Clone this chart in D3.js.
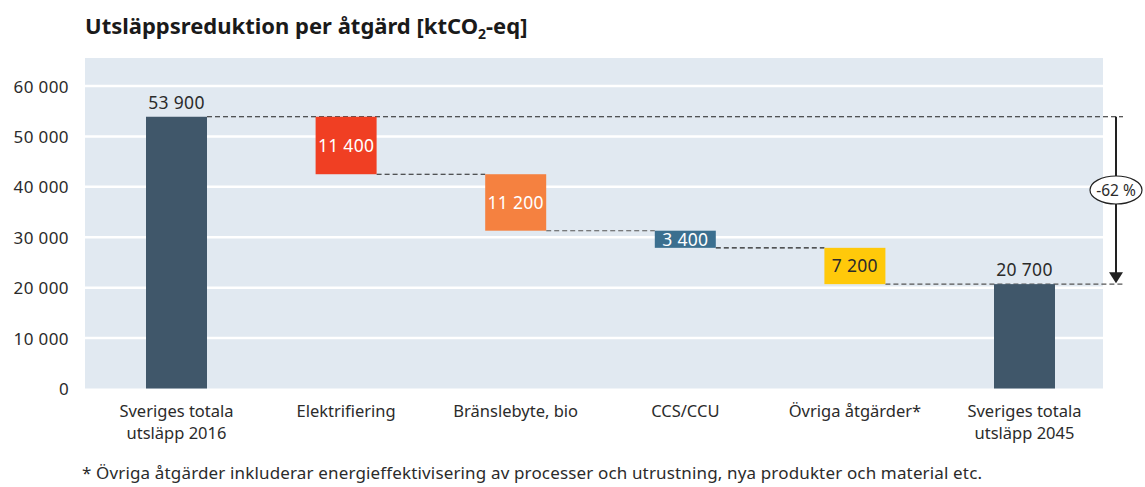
<!DOCTYPE html>
<html>
<head>
<meta charset="utf-8">
<script src="https://cdn.jsdelivr.net/npm/d3@7"></script>
<style>
  body { margin: 0; background: #fff; }
  text { font-family: "Noto Sans", sans-serif; fill: #2b2b2b; }
</style>
</head>
<body>
<div id="canvas"></div>
<script>
// data
const categories = [
  ["Sveriges totala", "utsläpp 2016"],
  ["Elektrifiering"],
  ["Bränslebyte, bio"],
  ["CCS/CCU"],
  ["Övriga åtgärder*"],
  ["Sveriges totala", "utsläpp 2045"]
];
const values = [53900, 11400, 11200, 3400, 7200, 20700];
const kinds = ["total", "step", "step", "step", "step", "total"];
const colors = ["#40576a", "#f03f23", "#f58140", "#3b6f8f", "#ffc90a", "#40576a"];
const yTicks = [0, 10000, 20000, 30000, 40000, 50000, 60000];
const changeLabel = "-62 %";

const width = 1145, height = 487;
const svg = d3.select("#canvas").append("svg")
  .attr("width", width).attr("height", height);

const plot = { left: 85, right: 1103, top: 58, bottom: 388.5 };

const y = d3.scaleLinear().domain([0, 60000]).range([388.5, 86]);
const x = d3.scalePoint()
  .domain(d3.range(categories.length))
  .range([176.5, 1024.5]);
const barW = 61;

const fmt = v => d3.format(",")(v).replace(/,/g, " ");

// background
svg.append("rect")
  .attr("x", plot.left).attr("y", plot.top)
  .attr("width", plot.right - plot.left).attr("height", plot.bottom - plot.top)
  .attr("fill", "#e1e9f1");

// grid
svg.append("g").selectAll("line").data(yTicks.filter(d => d > 0)).enter().append("line")
  .attr("x1", plot.left).attr("x2", plot.right)
  .attr("y1", d => y(d)).attr("y2", d => y(d))
  .attr("stroke", "#fff").attr("stroke-width", 2.5);

// y axis
const yAxis = svg.append("g")
  .attr("transform", `translate(${plot.left},0)`)
  .call(d3.axisLeft(y).tickValues(yTicks).tickSize(0).tickPadding(16).tickFormat(fmt));
yAxis.select(".domain").remove();
yAxis.selectAll("text").style("font-size", "17px").style("letter-spacing", "0.4px")
  .style("font-family", "'Noto Sans', sans-serif")
  .attr("fill", "#2b2b2b").attr("dy", "0.36em");

// compute waterfall positions
let running = 0;
const bars = values.map((v, i) => {
  let lo, hi;
  if (kinds[i] === "total") { lo = 0; hi = v; running = v; }
  else { hi = running; lo = running - v; running = lo; }
  return { i, v, lo, hi, kind: kinds[i], color: colors[i] };
});

// connectors
const conn = svg.append("g").attr("stroke", "#222").attr("stroke-width", 1.1)
  .attr("stroke-dasharray", "5,3");
bars.forEach((b, k) => {
  if (k === 0) {
    conn.append("line")
      .attr("x1", x(0) + barW / 2).attr("x2", 1123)
      .attr("y1", y(b.hi)).attr("y2", y(b.hi));
  } else if (k < bars.length - 1) {
    const nx = k + 1 < bars.length - 1 ? x(k + 1) - barW / 2 : 1123;
    conn.append("line")
      .attr("x1", x(k) + barW / 2).attr("x2", nx)
      .attr("y1", y(b.lo)).attr("y2", y(b.lo))
      .attr("stroke", k === 2 || k === 4 ? "#555" : "#222");
  }
});

// bars
svg.append("g").selectAll("rect").data(bars).enter().append("rect")
  .attr("x", d => x(d.i) - barW / 2)
  .attr("width", barW)
  .attr("y", d => y(d.hi))
  .attr("height", d => y(d.lo) - y(d.hi))
  .attr("fill", d => d.color);

// value labels
svg.append("g").selectAll("text").data(bars).enter().append("text")
  .attr("x", d => x(d.i))
  .attr("y", d => d.kind === "total" ? y(d.hi) - 8 : (y(d.hi) + y(d.lo)) / 2)
  .attr("dy", d => d.kind === "total" ? 0 : "0.36em")
  .attr("text-anchor", "middle")
  .style("font-size", "17.5px")
  .style("letter-spacing", "0.3px")
  .style("fill", d => d.kind === "total" || d.i === 4 ? "#2b2b2b" : "#fff")
  .text(d => fmt(d.v));

// category labels
const cat = svg.append("g").selectAll("text").data(categories).enter().append("text")
  .attr("x", (d, i) => x(i))
  .attr("y", 417)
  .attr("text-anchor", "middle")
  .style("font-size", "16.5px");
cat.selectAll("tspan").data(d => d).enter().append("tspan")
  .attr("x", function () { return d3.select(this.parentNode).attr("x"); })
  .attr("dy", (d, j) => j === 0 ? 0 : 22)
  .text(d => d);

// total change arrow
const ax = 1116;
const first = bars[0], last = bars[bars.length - 1];
const midY = 190;
svg.append("line").attr("x1", ax).attr("x2", ax)
  .attr("y1", y(first.hi)).attr("y2", y(last.hi) - 10)
  .attr("stroke", "#222").attr("stroke-width", 2);
svg.append("path")
  .attr("d", `M${ax - 7},${y(last.hi) - 12} L${ax + 7},${y(last.hi) - 12} L${ax},${y(last.hi) - 1} Z`)
  .attr("fill", "#222");
svg.append("ellipse").attr("cx", ax).attr("cy", midY).attr("rx", 26).attr("ry", 14)
  .attr("fill", "#fff").attr("stroke", "#222").attr("stroke-width", 1.2);
svg.append("text").attr("x", ax).attr("y", midY).attr("dy", "0.36em")
  .attr("text-anchor", "middle").style("font-size", "15.5px").text(changeLabel);

// title
const title = svg.append("text").attr("x", 85).attr("y", 34)
  .style("font-size", "22px").style("font-weight", "bold").style("fill", "#1a1a1a");
title.append("tspan").text("Utsläppsreduktion per åtgärd [ktCO");
title.append("tspan").attr("dy", 5).style("font-size", "14px").text("2");
title.append("tspan").attr("dy", -5).text("-eq]");

// footnote
svg.append("text").attr("x", 82).attr("y", 479)
  .style("font-size", "17px")
  .style("letter-spacing", "0.15px")
  .text("* Övriga åtgärder inkluderar energieffektivisering av processer och utrustning, nya produkter och material etc.");
</script>
</body>
</html>
